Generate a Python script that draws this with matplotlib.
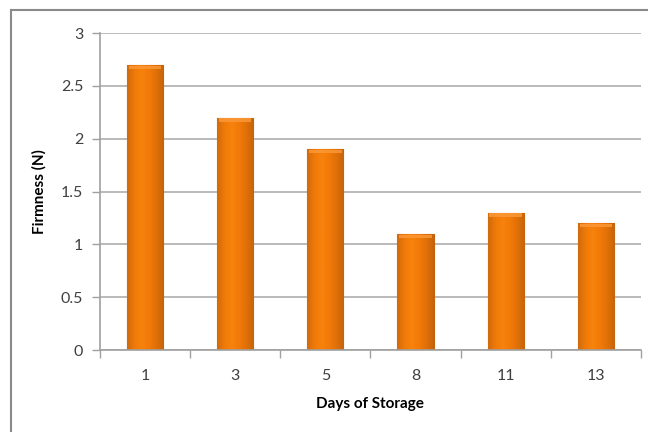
import numpy as np
import matplotlib
matplotlib.use("Agg")
import matplotlib.pyplot as plt
from matplotlib.colors import LinearSegmentedColormap
from matplotlib.lines import Line2D

days = ["1", "3", "5", "8", "11", "13"]
firmness = [2.7, 2.2, 1.9, 1.1, 1.3, 1.2]
y_ticks = [0, 0.5, 1, 1.5, 2, 2.5, 3]
y_tick_labels = ["0", "0.5", "1", "1.5", "2", "2.5", "3"]

plt.rcParams["font.family"] = ["Lato", "DejaVu Sans"]

fig = plt.figure(figsize=(6.48, 4.32), dpi=100)
fig.patch.set_facecolor("white")
ax = fig.add_axes([0.1543, 0.1898, 0.8347, 0.7338])

# chart frame (top and left edges)
fig.add_artist(Line2D([11 / 648, 1.0], [1 - 10 / 432, 1 - 10 / 432],
                      transform=fig.transFigure, color="#8a8a8a", lw=1.5))
fig.add_artist(Line2D([11 / 648, 11 / 648], [0.0, 1 - 10 / 432],
                      transform=fig.transFigure, color="#8a8a8a", lw=1.5))

x = np.arange(len(days))
width = 0.4
bars = ax.bar(x, firmness, width=width, color="#f27a08", zorder=2,
              edgecolor="#c2620c", linewidth=0.8)

# soft cylinder-like horizontal shading on each bar
shade = LinearSegmentedColormap.from_list(
    "shade", ["#cf6a0c", "#f07a08", "#f7820c", "#f27a08", "#e07008", "#c4640c"])
grad = np.linspace(0, 1, 256).reshape(1, -1)
for b in bars:
    x0, w, h = b.get_x(), b.get_width(), b.get_height()
    im = ax.imshow(grad, cmap=shade, aspect="auto",
                   extent=[x0, x0 + w, 0, h], zorder=2.5, interpolation="bicubic")
    im.set_clip_path(b)
    # lighter cap at the top of the bar
    ax.fill_between([x0 + w * 0.05, x0 + w * 0.95], h - 0.04, h - 0.008,
                    color="#fb9a3a", alpha=0.8, zorder=3, linewidth=0)

ax.set_xlim(-0.5, len(days) - 0.5)
ax.set_ylim(0, 3)
ax.set_yticks(y_ticks)
ax.set_yticklabels(y_tick_labels)
ax.yaxis.grid(True, color="#b4b4b4", lw=1.3, zorder=0)
ax.set_axisbelow(True)

ax.set_xticks(x)
ax.set_xticklabels(days)
ax.set_xticks(np.arange(-0.5, len(days)), minor=True)
ax.tick_params(axis="x", which="major", length=0, pad=14, labelsize=11.5, labelcolor="#404040")
ax.tick_params(axis="x", which="minor", length=6, color="#a0a0a0", width=1)
ax.tick_params(axis="y", length=6, color="#a0a0a0", width=1, pad=6,
               labelsize=11.5, labelcolor="#404040")

for s in ["top", "right"]:
    ax.spines[s].set_visible(False)
for s in ["left", "bottom"]:
    ax.spines[s].set_color("#a0a0a0")
    ax.spines[s].set_linewidth(1.2)

ax.set_xlabel("Days of Storage", fontsize=11, fontweight="bold", labelpad=10)
ax.set_ylabel("Firmness (N)", fontsize=11, fontweight="bold", labelpad=10)

fig.savefig("out.png", dpi=100, facecolor="white")
